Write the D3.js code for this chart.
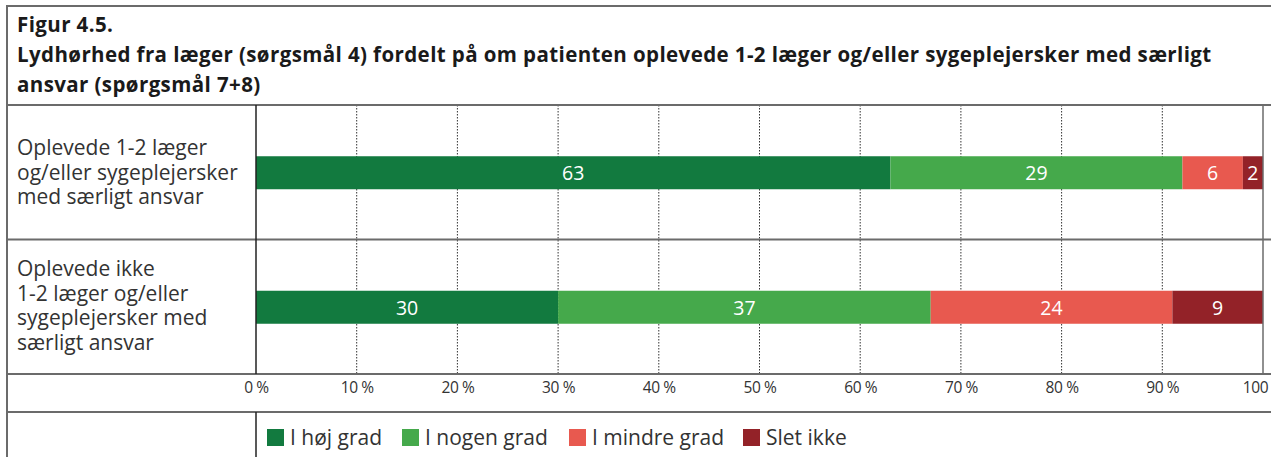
<!DOCTYPE html>
<html>
<head>
<meta charset="utf-8">
<script src="https://cdn.jsdelivr.net/npm/d3@7"></script>
<style>
  body { margin: 0; background: #fff; }
  svg { font-family: "Open Sans", sans-serif; }
</style>
</head>
<body>
<svg id="my_svg"></svg>
<script>
const width = 1271;
const height = 457;

const titleLines = [
    'Figur 4.5.',
    'Lydhørhed fra læger (sørgsmål 4) fordelt på om patienten oplevede 1-2 læger og/eller sygeplejersker med særligt',
    'ansvar (spørgsmål 7+8)'
];
const categories = [
    ['Oplevede 1-2 læger', 'og/eller sygeplejersker', 'med særligt ansvar'],
    ['Oplevede ikke', '1-2 læger og/eller', 'sygeplejersker med', 'særligt ansvar']
];
const series = ['I høj grad', 'I nogen grad', 'I mindre grad', 'Slet ikke'];
const values = [
    [63, 29, 6, 2],
    [30, 37, 24, 9]
];
const ticks = [0, 10, 20, 30, 40, 50, 60, 70, 80, 90, 100];
const colors = ['#127a3f', '#45a94b', '#e8594f', '#932228'];

const svg = d3.select('#my_svg')
    .attr('width', width)
    .attr('height', height);

const frameColor = '#6b6b6b';
const plotTop = 105, axisY = 374, legendY = 412;

const x = d3.scaleLinear().domain([0, 100]).range([256, 1263]);
const y = d3.scaleBand().domain([0, 1]).range([plotTop, axisY]);

// title
const title = svg.append('text')
    .attr('font-weight', 700)
    .attr('font-size', 20.5)
    .attr('letter-spacing', 0.4)
    .attr('fill', '#1a1a1a');
title.selectAll('tspan')
    .data(titleLines)
    .enter().append('tspan')
    .attr('x', 17)
    .attr('y', (d, i) => 32 + i * 30)
    .text(d => d);

// gridlines
svg.append('g')
    .selectAll('line')
    .data(ticks.slice(1, -1))
    .enter().append('line')
    .attr('x1', d => x(d)).attr('x2', d => x(d))
    .attr('y1', plotTop).attr('y2', axisY)
    .attr('stroke', '#333')
    .attr('stroke-width', 1)
    .attr('stroke-dasharray', '1.5,1.5');

// bars
const rows = svg.append('g')
    .selectAll('g')
    .data(values)
    .enter().append('g');

rows.each(function (vals, r) {
    let acc = 0;
    const segs = vals.map((v, i) => {
        const s = { v: v, x0: acc, x1: acc + v, i: i };
        acc += v;
        return s;
    });
    const g = d3.select(this);
    const barTop = y(r) + y.bandwidth() / 2 - 16;
    g.selectAll('rect')
        .data(segs)
        .enter().append('rect')
        .attr('x', d => x(d.x0))
        .attr('width', d => x(d.x1) - x(d.x0))
        .attr('y', barTop)
        .attr('height', 33)
        .attr('fill', d => colors[d.i]);
    g.selectAll('text')
        .data(segs)
        .enter().append('text')
        .attr('x', d => (x(d.x0) + x(d.x1)) / 2)
        .attr('y', barTop + 24)
        .attr('text-anchor', 'middle')
        .attr('font-size', 19.5)
        .attr('fill', '#fff')
        .text(d => d.v);
});

// category labels
const labelBase = [155, 276];
categories.forEach((lines, r) => {
    const t = svg.append('text')
        .attr('font-size', 21)
        .attr('fill', '#333');
    t.selectAll('tspan')
        .data(lines)
        .enter().append('tspan')
        .attr('x', 17)
        .attr('y', (d, i) => labelBase[r] + i * 24.5)
        .text(d => d);
});

// axis labels
const axis = d3.axisBottom(x)
    .tickValues(ticks)
    .tickSize(0)
    .tickPadding(8)
    .tickFormat(d => d + ' %');
const axisG = svg.append('g')
    .attr('transform', `translate(0, ${axisY})`)
    .call(axis);
axisG.select('.domain').remove();
axisG.selectAll('text')
    .style('font-family', '"Open Sans", sans-serif')
    .style('font-size', '15.5px')
    .style('letter-spacing', '-0.4px')
    .attr('fill', '#333');

// frame lines
const hLines = [6, plotTop, y(1), axisY, legendY];
svg.append('g')
    .selectAll('line')
    .data(hLines)
    .enter().append('line')
    .attr('x1', 7).attr('x2', width)
    .attr('y1', d => d).attr('y2', d => d)
    .attr('stroke', frameColor)
    .attr('stroke-width', 2);

svg.append('line')
    .attr('x1', 7).attr('x2', 7)
    .attr('y1', 5).attr('y2', height)
    .attr('stroke', frameColor)
    .attr('stroke-width', 2);

svg.append('line')
    .attr('x1', x(0)).attr('x2', x(0))
    .attr('y1', plotTop).attr('y2', axisY)
    .attr('stroke', '#222')
    .attr('stroke-width', 1.5);
svg.append('line')
    .attr('x1', x(0)).attr('x2', x(0))
    .attr('y1', legendY).attr('y2', height)
    .attr('stroke', '#222')
    .attr('stroke-width', 1.5);
svg.append('line')
    .attr('x1', x(100)).attr('x2', x(100))
    .attr('y1', plotTop).attr('y2', axisY)
    .attr('stroke', frameColor)
    .attr('stroke-width', 1.5);

// legend
const legendX = [267, 402, 569, 743];
const legend = svg.selectAll('.legend')
    .data(series)
    .enter().append('g')
    .attr('class', 'legend')
    .attr('transform', (d, i) => `translate(${legendX[i]}, 429)`);
legend.append('rect')
    .attr('width', 17)
    .attr('height', 17)
    .attr('fill', (d, i) => colors[i]);
legend.append('text')
    .attr('x', 23)
    .attr('y', 16)
    .attr('font-size', 21)
    .attr('fill', '#333')
    .text(d => d);
</script>
</body>
</html>
